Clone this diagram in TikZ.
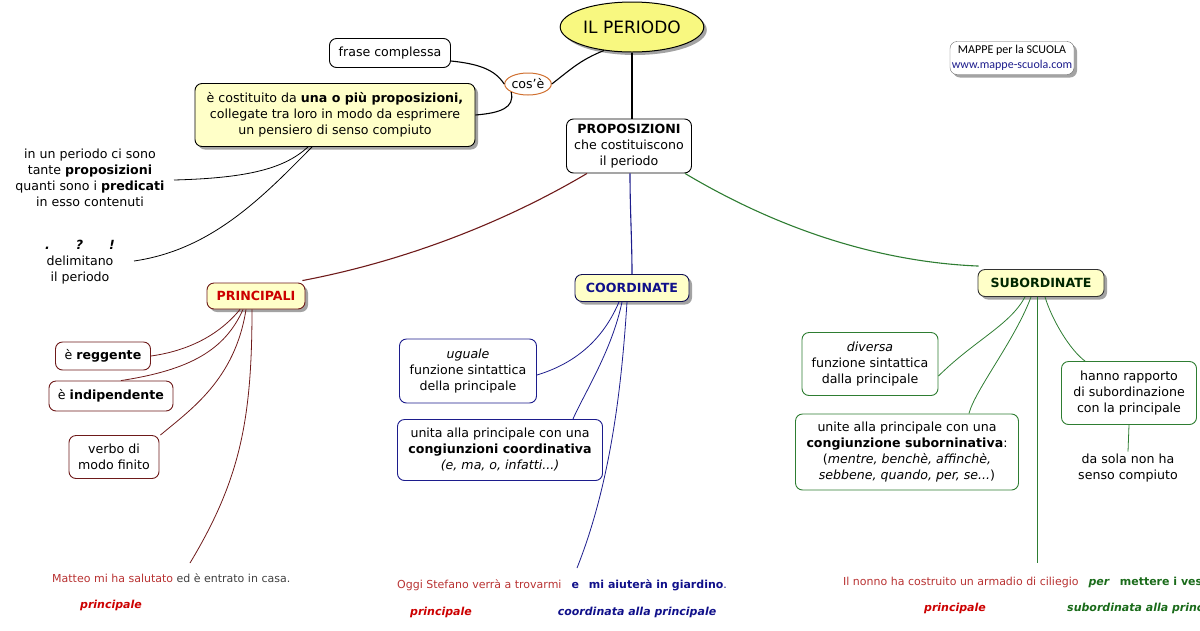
\documentclass[tikz,border=0pt]{standalone}
\usepackage{fontspec}
\setmainfont{DejaVu Sans}
\newfontfamily\wmfont{Carlito}
\usetikzlibrary{shapes.geometric,shadows}
\definecolor{ylw}{HTML}{FFFFC8}
\definecolor{ylwb}{HTML}{F8F880}
\definecolor{dred}{HTML}{6E1A1A}
\definecolor{bred}{HTML}{CC0000}
\definecolor{sred}{HTML}{B83232}
\definecolor{nblue}{HTML}{1C1C8C}
\definecolor{tblue}{HTML}{10108A}
\definecolor{dgreen}{HTML}{2E7D32}
\definecolor{tgreen}{HTML}{1A6B1A}
\definecolor{orng}{HTML}{D07030}
\tikzset{
  base/.style={font=\fontsize{12.6}{16}\selectfont, align=center, inner sep=2pt},
  box/.style={base, draw, rounded corners=7pt, fill=white, line width=0.9pt},
  shd/.style={drop shadow={shadow xshift=3pt, shadow yshift=-3pt, fill=black!45, opacity=0.8}},
  ybox/.style={box, fill=ylw, shd},
  txt/.style={base},
  conn/.style={line width=1.1pt},
}
\begin{document}
\begin{tikzpicture}[x=1pt,y=-1pt]
\useasboundingbox (0,0) rectangle (1200,630);
\clip (0,0) rectangle (1200,630);
% top
\node[base, draw, ellipse, fill=ylwb, line width=1pt, minimum width=122pt, minimum height=50pt, shd, font=\fontsize{17}{20}\selectfont] (per) at (632,27) {IL PERIODO};
\node[box, minimum width=121pt, minimum height=29pt] (fc) at (390,53) {frase complessa};
\node[base, draw=orng, ellipse, fill=white, line width=1pt, minimum width=44pt, minimum height=22pt, inner sep=0pt] (cos) at (528,84) {cos'è};
\node[ybox, minimum width=280pt, minimum height=63pt] (cost) at (335,115) {è costituito da \textbf{una o più proposizioni,}\\collegate tra loro in modo da esprimere\\un pensiero di senso compiuto};
\node[box, minimum width=125pt, minimum height=54pt] (prop) at (629,146) {\textbf{PROPOSIZIONI}\\che costituiscono\\il periodo};
\node[base, draw=black!60, rounded corners=7pt, fill=white, minimum width=124pt, minimum height=33pt, shd, font=\wmfont\fontsize{12}{15}\selectfont, inner sep=1pt] (wm) at (1012,58) {MAPPE per la SCUOLA\\\textcolor{nblue}{www.mappe-scuola.com}};

\draw[conn] (per.220) .. controls (580,60) and (570,70) .. (cos.east);
\coordinate (fce) at (451,61);
\draw[conn] (fce) .. controls (480,64) and (495,70) .. (cos.west);
\draw[conn] (cos.south west) .. controls (515,108) and (500,113) .. (cost.east);
\draw[conn] (per.south) -- (per.south |- prop.north);

% left texts
\node[txt] (tp) at (90,178) {in un periodo ci sono\\tante \textbf{proposizioni}\\quanti sono i \textbf{predicati}\\in esso contenuti};
\node[txt] (del) at (80,262) {\textbf{\textit{.}}\hspace{26pt}\textbf{\textit{?}}\hspace{26pt}\textbf{\textit{!}}\\delimitano\\il periodo};
\coordinate (tpe) at (174,180);
\coordinate (dele) at (134,261);
\draw[line width=0.8pt] (tpe) .. controls (250,178) and (285,168) .. ([xshift=-27pt]cost.south);
\draw[line width=0.8pt] (dele) .. controls (210,250) and (260,200) .. ([xshift=-23pt]cost.south);

% level 2
\node[ybox, draw=dred, text=bred, minimum width=98pt, minimum height=26pt] (pri) at (256,296) {\textbf{PRINCIPALI}};
\node[ybox, draw=nblue!60!black, text=tblue, minimum width=114pt, minimum height=27pt] (coo) at (632,288) {\textbf{COORDINATE}};
\node[ybox, draw=black!80, text=black!85!green, minimum width=126pt, minimum height=27pt] (sub) at (1041,283) {\textbf{SUBORDINATE}};

\draw[conn, dred] ([xshift=-42pt]prop.south) .. controls (500,225) and (400,262) .. ([xshift=-3pt,yshift=2pt]pri.north east);
\draw[conn, nblue] ([xshift=1pt]prop.south) .. controls (630,210) and (632,240) .. (coo.north);
\draw[conn, dgreen] ([xshift=56pt]prop.south) .. controls (780,230) and (880,262) .. ([xshift=1pt,yshift=3pt]sub.north west);

% principali children
\node[box, draw=dred, minimum width=95pt, minimum height=28pt] (reg) at (103,356) {è \textbf{reggente}};
\node[box, draw=dred, minimum width=124pt, minimum height=30pt] (ind) at (111,396) {è \textbf{indipendente}};
\node[box, draw=dred, minimum width=90pt, minimum height=43pt] (ver) at (114,457) {verbo di\\modo finito};
\coordinate (pe) at (190,563);
\draw[dred, line width=0.8pt] ([xshift=-16pt]pri.south) .. controls (215,340) and (180,352) .. (reg.east);
\draw[dred, line width=0.8pt] ([xshift=-13pt]pri.south) .. controls (225,350) and (190,370) .. ([xshift=10pt]ind.north);
\draw[dred, line width=0.8pt] ([xshift=-10pt]pri.south) .. controls (235,380) and (190,410) .. ([xshift=1pt]ver.north east);
\draw[dred, line width=0.8pt] ([xshift=-4pt]pri.south) .. controls (252,420) and (240,480) .. (pe);
\node[txt, anchor=west, inner sep=0pt] (s1) at (52,578) {\fontsize{11}{14}\selectfont\textcolor{sred}{Matteo mi ha salutato} \textcolor{black!75}{ed è entrato in casa.}};
\node[txt, text=bred] (p1) at (111,605) {\fontsize{11}{14}\selectfont\textbf{\textit{principale}}};

% coordinate children
\node[box, draw=nblue, minimum width=137pt, minimum height=64pt] (ugu) at (468,371) {\textit{uguale}\\funzione sintattica\\della principale};
\node[box, draw=nblue, minimum width=205pt, minimum height=61pt] (uni) at (500,450) {unita alla principale con una\\\textbf{congiunzioni coordinativa}\\\textit{(e, ma, o, infatti...)}};
\coordinate (ce) at (577,568);
\draw[nblue, line width=0.8pt] ([xshift=-13pt]coo.south) .. controls (605,335) and (580,362) .. ([yshift=-4pt]ugu.east);
\draw[nblue, line width=0.8pt] ([xshift=-10pt]coo.south) .. controls (612,350) and (585,392) .. ([xshift=-30pt]uni.north east);
\draw[nblue, line width=0.8pt] ([xshift=-5pt]coo.south) .. controls (622,380) and (612,480) .. (ce);
\node[txt, anchor=west, inner sep=0pt] (s2) at (397,585) {\fontsize{11}{14}\selectfont\textcolor{sred}{Oggi Stefano verrà a trovarmi}\hspace{10pt}\textcolor{tblue}{\textbf{e}\hspace{10pt}\textbf{mi aiuterà in giardino}.}};
\node[txt, text=bred] (p2) at (441,612) {\fontsize{11}{14}\selectfont\textbf{\textit{principale}}};
\node[txt, text=tblue] (c2) at (637,612) {\fontsize{11}{14}\selectfont\textbf{\textit{coordinata alla principale}}};

% subordinate children
\node[box, draw=dgreen, minimum width=136pt, minimum height=63pt] (div) at (870,364) {\textit{diversa}\\funzione sintattica\\dalla principale};
\node[box, draw=dgreen, minimum width=223pt, minimum height=76pt] (cgs) at (907,452) {unite alla principale con una\\\textbf{congiunzione suborninativa}:\\(\textit{mentre, benchè, affinchè,}\\\textit{sebbene, quando, per, se...})};
\node[box, draw=dgreen, minimum width=135pt, minimum height=63pt] (han) at (1129,393) {hanno rapporto\\di subordinazione\\con la principale};
\node[txt] (das) at (1128,468) {da sola non ha\\senso compiuto};
\coordinate (se) at (1037,563);
\draw[dgreen, line width=0.8pt] ([xshift=-16pt]sub.south) .. controls (1010,325) and (975,340) .. ([yshift=-12pt]div.east);
\draw[dgreen, line width=0.8pt] ([xshift=-10pt]sub.south) .. controls (1015,340) and (975,390) .. ([xshift=-50pt]cgs.north east);
\draw[dgreen, line width=0.8pt] ([xshift=-4pt]sub.south) .. controls (1037,380) and (1037,480) .. (se);
\draw[dgreen, line width=0.8pt] ([xshift=4pt]sub.south) .. controls (1052,320) and (1070,350) .. ([xshift=-44pt]han.north);
\draw[dgreen, line width=0.8pt] (han.south) -- (das.north);
\node[txt, anchor=west, inner sep=0pt] (s3) at (843,582) {\fontsize{11}{14}\selectfont\textcolor{sred}{Il nonno ha costruito un armadio di ciliegio}\hspace{10pt}\textcolor{tgreen}{\textbf{\textit{per}}\hspace{10pt}\textbf{mettere i vestiti}}};
\node[txt, text=bred] (p3) at (955,608) {\fontsize{11}{14}\selectfont\textbf{\textit{principale}}};
\node[txt, text=tgreen, anchor=west, inner sep=0pt] (c3) at (1067,608) {\fontsize{11}{14}\selectfont\textbf{\textit{subordinata alla principale}}};
\end{tikzpicture}
\end{document}
